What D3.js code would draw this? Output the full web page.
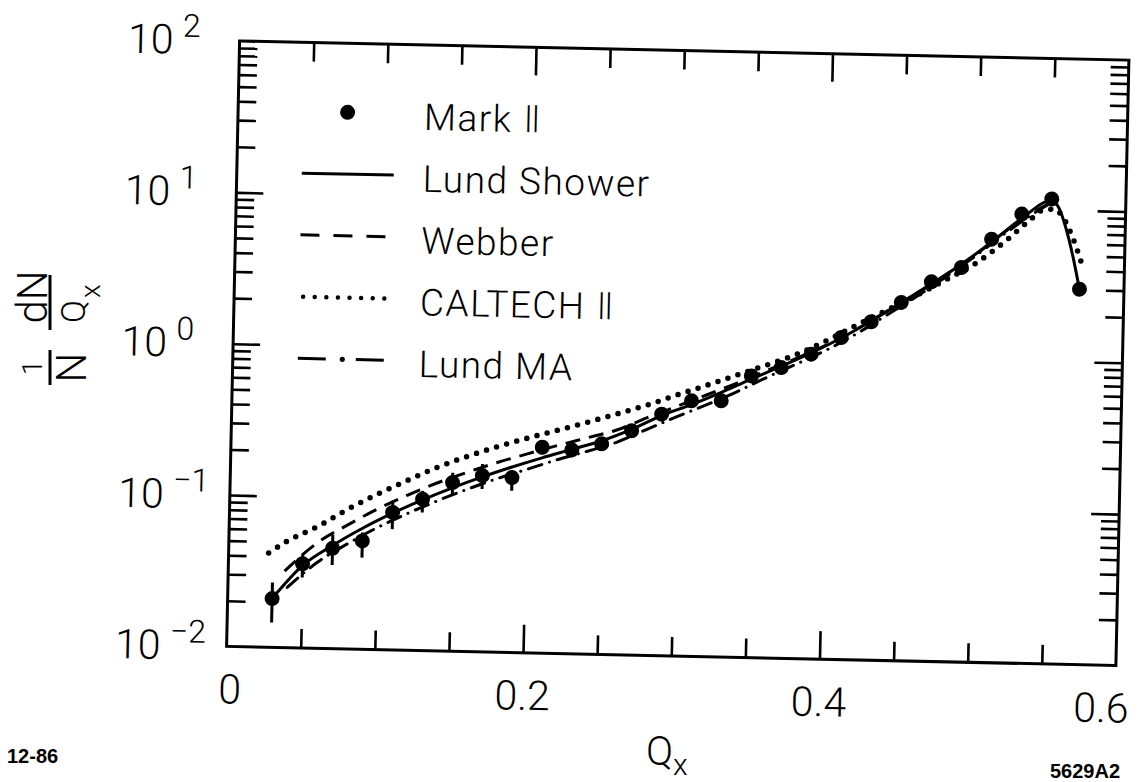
<!DOCTYPE html>
<html><head><meta charset="utf-8">
<script src="https://cdn.jsdelivr.net/npm/d3@7"></script>
<style>body{margin:0;background:#fff}svg{display:block}</style>
</head><body>
<svg id="chart" width="1140" height="782"></svg>
<script>
// ---------------- data ----------------
const markQ = [0.03,0.05,0.07,0.09,0.11,0.13,0.15,0.17,0.19,0.21,0.23,0.25,0.27,0.29,0.31,0.33,0.35,0.37,0.39,0.41,0.43,0.45,0.47,0.49,0.51,0.53,0.55,0.57];
const markY = [0.021,0.036,0.046,0.052,0.081,0.100,0.130,0.146,0.143,0.229,0.222,0.246,0.303,0.394,0.487,0.492,0.726,0.832,1.03,1.34,1.72,2.33,3.22,4.04,6.28,9.29,11.8,3.02];
const markHi = [0.0268,0.0417,0.0565,0.059,0.0966,0.1135,0.151,0.174,0.158,0.252,0.244,0.271,0.333,0.433,0.536,0.541,0.80,0.915,1.13,1.47,1.89,2.56,3.54,4.44,6.9,10.2,13.0,3.32];
const markLo = [0.0146,0.0292,0.0357,0.0403,0.0628,0.0817,0.106,0.119,0.117,0.206,0.200,0.221,0.273,0.355,0.438,0.443,0.653,0.749,0.927,1.21,1.55,2.10,2.90,3.64,5.65,8.36,10.6,2.72];

const showerQ = [0.03,0.05,0.07,0.09,0.11,0.13,0.15,0.17,0.19,0.21,0.23,0.25,0.27,0.29,0.31,0.33,0.35,0.37,0.39,0.41,0.43,0.45,0.47,0.49,0.51,0.53,0.55,0.555,0.56,0.565,0.57];
const showerY = [0.021,0.035,0.048,0.063,0.080,0.099,0.120,0.143,0.168,0.195,0.224,0.258,0.31,0.385,0.46,0.56,0.69,0.85,1.05,1.33,1.74,2.32,3.12,4.25,6.0,8.7,11.5,10.3,7.6,5.0,3.0];

const webberQ = [0.038,0.06,0.08,0.10,0.12,0.14,0.16,0.18,0.20,0.22,0.24,0.26,0.28,0.30,0.32,0.34,0.36,0.38,0.40,0.42,0.44,0.46,0.48,0.50,0.52,0.54,0.55];
const webberY = [0.032,0.050,0.066,0.085,0.106,0.129,0.153,0.179,0.206,0.236,0.268,0.305,0.37,0.445,0.535,0.645,0.79,0.96,1.19,1.52,2.02,2.67,3.62,5.0,7.2,9.9,11.2];

const caltechQ = [0.027,0.04,0.06,0.08,0.10,0.12,0.14,0.16,0.18,0.20,0.22,0.24,0.26,0.28,0.30,0.32,0.34,0.36,0.38,0.40,0.42,0.44,0.46,0.48,0.50,0.52,0.535,0.545,0.552,0.558,0.565,0.572];
const caltechY = [0.042,0.051,0.064,0.084,0.107,0.133,0.164,0.195,0.228,0.262,0.298,0.34,0.39,0.45,0.53,0.62,0.73,0.86,1.02,1.27,1.62,2.05,2.6,3.35,4.35,6.2,8.4,10.0,10.1,8.9,6.5,4.2];

const lundMAQ = [0.04,0.06,0.08,0.10,0.12,0.14,0.16,0.18,0.20,0.22,0.24,0.26,0.28,0.30,0.32,0.34,0.36,0.38,0.40,0.42,0.44,0.46,0.48,0.50,0.52,0.54,0.55];
const lundMAY = [0.025,0.037,0.0495,0.064,0.080,0.098,0.118,0.140,0.163,0.190,0.218,0.253,0.31,0.38,0.46,0.565,0.71,0.88,1.10,1.42,1.90,2.55,3.5,4.9,7.0,9.7,11.2];

const xTickValues = [0,0.2,0.4,0.6];
const xTickLabels = ["0","0.2","0.4","0.6"];
const xMinorTicks = [0.05,0.1,0.15,0.25,0.3,0.35,0.45,0.5,0.55];
const xMajorTicks = [0.2,0.4];
const yDecades = [0.01,0.1,1,10,100];
const yTickBase = ["10","10","10","10","10"];
const yTickExp = ["\u22122","\u22121","0","1","2"];
const legendLabels = ["Mark \u2161","Lund Shower","Webber","CALTECH \u2161","Lund MA"];

// ---------------- layout ----------------
const FONT = "Roboto, 'DejaVu Sans', sans-serif";
const L = 233, T = 50.5, W = 889.5, H = 605.5;
const tilt = 1.23;
const cx = L + W/2, cy = T + H/2;

const x = d3.scaleLinear().domain([0,0.6]).range([L, L+W]);
const y = d3.scaleLog().domain([0.01,100]).range([T+H, T]);

const svg = d3.select("#chart");
svg.append("rect").attr("width",1140).attr("height",782).attr("fill","#fff");
const g = svg.append("g").attr("transform", `rotate(${tilt},${cx},${cy})`);

g.append("rect").attr("x",L).attr("y",T).attr("width",W).attr("height",H)
  .attr("fill","none").attr("stroke","#000").attr("stroke-width",3);

function styleAxis(sel){
  sel.select(".domain").remove();
  sel.selectAll(".tick text").remove();
  sel.selectAll(".tick line").attr("stroke","#000").attr("stroke-width",2.6);
}
const yMinor = [];
yDecades.slice(0,4).forEach(d => { for (let k=2;k<=9;k++) yMinor.push(d*k); });
const yMajor = [0.1,1,10];

// bottom & top
g.append("g").attr("transform",`translate(0,${T+H})`).call(d3.axisTop(x).tickValues(xMinorTicks).tickSize(19)).call(styleAxis);
g.append("g").attr("transform",`translate(0,${T+H})`).call(d3.axisTop(x).tickValues(xMajorTicks).tickSize(28)).call(styleAxis);
g.append("g").attr("transform",`translate(0,${T})`).call(d3.axisBottom(x).tickValues(xMinorTicks).tickSize(19)).call(styleAxis);
g.append("g").attr("transform",`translate(0,${T})`).call(d3.axisBottom(x).tickValues(xMajorTicks).tickSize(28)).call(styleAxis);
// left & right
g.append("g").attr("transform",`translate(${L},0)`).call(d3.axisRight(y).tickValues(yMinor).tickSize(18)).call(styleAxis);
g.append("g").attr("transform",`translate(${L},0)`).call(d3.axisRight(y).tickValues(yMajor).tickSize(27)).call(styleAxis);
g.append("g").attr("transform",`translate(${L+W},0)`).call(d3.axisLeft(y).tickValues(yMinor).tickSize(18)).call(styleAxis);
g.append("g").attr("transform",`translate(${L+W},0)`).call(d3.axisLeft(y).tickValues(yMajor).tickSize(28)).call(styleAxis);

// tick labels
const xLabelShift = [4, 0, 0, -14];
g.selectAll(".xl").data(xTickValues).join("text")
  .attr("x", (d,i) => x(d) + xLabelShift[i]).attr("y", T+H+57).attr("text-anchor","middle")
  .attr("font-family",FONT).attr("font-weight",300).attr("font-size",41).text((d,i)=>xTickLabels[i]);
g.selectAll(".yl").data(yDecades).join("text")
  .attr("x", L-66).attr("y", d => y(d)+14).attr("text-anchor","end")
  .attr("font-family",FONT).attr("font-weight",300).attr("font-size",41).text((d,i)=>yTickBase[i]);
g.selectAll(".ye").data(yDecades).join("text")
  .attr("x", L-57).attr("y", d => y(d)-3).attr("text-anchor","start")
  .attr("font-family",FONT).attr("font-weight",300).attr("font-size",32).text((d,i)=>yTickExp[i]);

// curves
const line = d3.line().x(d=>x(d[0])).y(d=>y(d[1])).curve(d3.curveMonotoneX);
const zip = (a,b) => a.map((v,i)=>[v,b[i]]);
g.append("path").attr("d", line(zip(showerQ,showerY))).attr("fill","none").attr("stroke","#000").attr("stroke-width",3);
g.append("path").attr("d", line(zip(webberQ,webberY))).attr("fill","none").attr("stroke","#000").attr("stroke-width",3).attr("stroke-dasharray","15,9");
g.append("path").attr("d", line(zip(caltechQ,caltechY))).attr("fill","none").attr("stroke","#000").attr("stroke-width",5.5).attr("stroke-linecap","round").attr("stroke-dasharray","0,10.5");
g.append("path").attr("d", line(zip(lundMAQ,lundMAY))).attr("fill","none").attr("stroke","#000").attr("stroke-width",3).attr("stroke-linecap","round").attr("stroke-dasharray","14,8,0.1,8");

// data points
const pts = markQ.map((q,i)=>({q, v:markY[i], hi:markHi[i], lo:markLo[i]}));
g.selectAll(".eb").data(pts).join("line")
  .attr("x1",d=>x(d.q)).attr("x2",d=>x(d.q)).attr("y1",d=>y(d.lo)).attr("y2",d=>y(d.hi))
  .attr("stroke","#000").attr("stroke-width",3);
g.selectAll(".pt").data(pts).join("circle")
  .attr("cx",d=>x(d.q)).attr("cy",d=>y(d.v)).attr("r",7.5).attr("fill","#000");

// legend
const LX0 = 298, LX1 = 387, LTX = 419, LY0 = 135.5, LDY = 61.75, LOFF = 16;
const leg = g.append("g");
legendLabels.forEach((t,i)=>{
  leg.append("text").attr("x",LTX).attr("y",LY0+i*LDY).attr("font-family",FONT).attr("font-weight",300).attr("font-size",37).attr("letter-spacing",1.5).text(t);
});
const ly = i => LY0 + i*LDY - LOFF;
leg.append("circle").attr("cx",(LX0+LX1)/2).attr("cy",ly(0)).attr("r",7.5).attr("fill","#000");
leg.append("line").attr("x1",LX0).attr("x2",LX1+3).attr("y1",ly(1)).attr("y2",ly(1)).attr("stroke","#000").attr("stroke-width",3);
leg.append("line").attr("x1",LX0).attr("x2",LX1).attr("y1",ly(2)).attr("y2",ly(2)).attr("stroke","#000").attr("stroke-width",3).attr("stroke-dasharray","19,14");
leg.append("line").attr("x1",LX0+4).attr("x2",LX1).attr("y1",ly(3)).attr("y2",ly(3)).attr("stroke","#000").attr("stroke-width",4.5).attr("stroke-linecap","round").attr("stroke-dasharray","0,11.6");
leg.append("line").attr("x1",LX0).attr("x2",LX1).attr("y1",ly(4)).attr("y2",ly(4)).attr("stroke","#000").attr("stroke-width",3).attr("stroke-dasharray","28,15,0.01,15,28").attr("stroke-linecap","butt");
leg.append("circle").attr("cx",LX0+44.5).attr("cy",ly(4)).attr("r",2.6).attr("fill","#000");

// y axis title (fractions, rotated)
const yt = svg.append("g").attr("transform","translate(50,330) rotate(-90)").attr("font-family",FONT).attr("font-weight",300);
yt.append("line").attr("x1",-55).attr("x2",-20).attr("y1",0).attr("y2",0).attr("stroke","#000").attr("stroke-width",3);
yt.append("text").attr("x",-37.5).attr("y",-8).attr("text-anchor","middle").attr("font-size",27).text("1");
yt.append("text").attr("x",-37.5).attr("y",36).attr("text-anchor","middle").attr("font-size",42).text("N");
yt.append("line").attr("x1",0).attr("x2",55).attr("y1",0).attr("y2",0).attr("stroke","#000").attr("stroke-width",3);
yt.append("text").attr("x",33).attr("y",-3).attr("text-anchor","middle").attr("font-size",42).text("dN");
yt.append("text").attr("x",7).attr("y",35).attr("text-anchor","start").attr("font-size",34).text("Q");
yt.append("text").attr("x",32).attr("y",50).attr("text-anchor","start").attr("font-size",28).text("x");

// x axis title
svg.append("text").attr("x",646).attr("y",765).attr("font-family",FONT).attr("font-weight",300).attr("font-size",40).text("Q");
svg.append("text").attr("x",673).attr("y",775).attr("font-family",FONT).attr("font-weight",300).attr("font-size",30).text("x");

// corner notes
svg.append("text").attr("x",7).attr("y",763).attr("font-family","'Liberation Sans', Arial, sans-serif").attr("font-weight","bold").attr("font-size",20).text("12-86");
svg.append("text").attr("x",1050).attr("y",778).attr("font-family","'Liberation Sans', Arial, sans-serif").attr("font-weight","bold").attr("font-size",20).text("5629A2");
</script>
</body></html>
